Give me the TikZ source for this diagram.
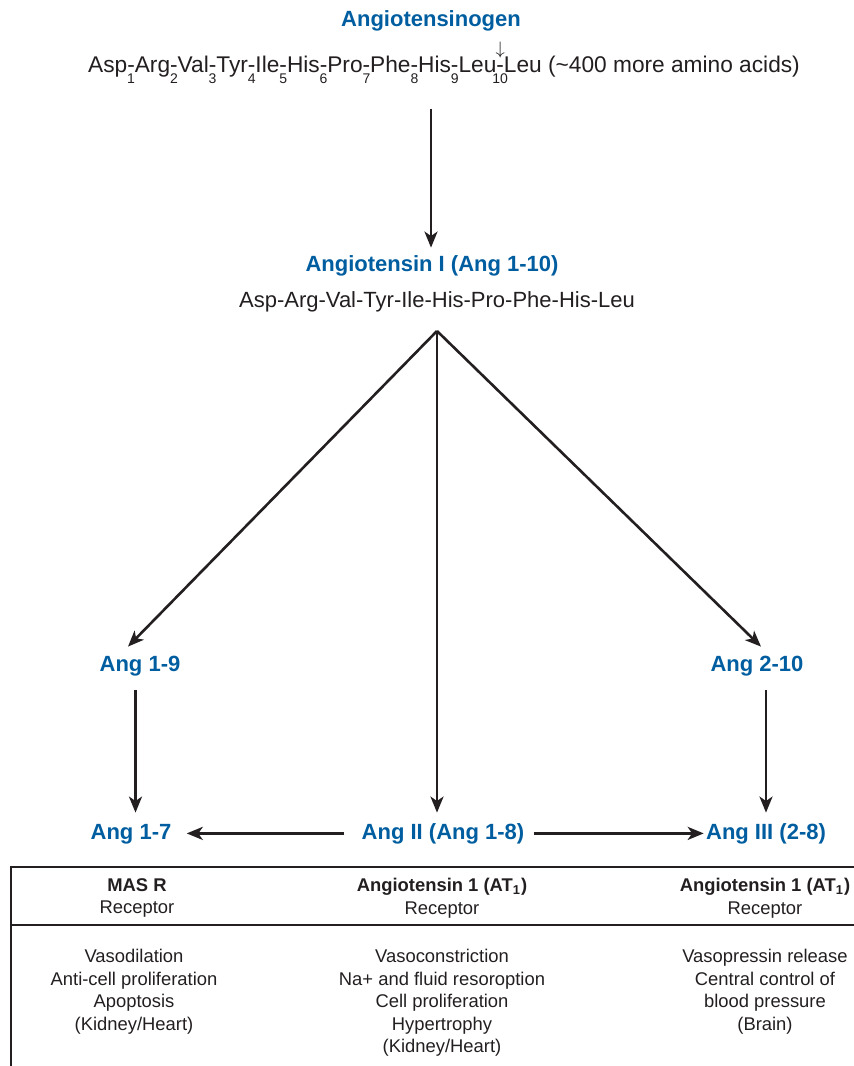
\documentclass[tikz,border=0pt]{standalone}
\usepackage{fontspec}
\setmainfont{Liberation Sans}
\usepackage{xcolor}
\usetikzlibrary{arrows.meta, positioning, calc}

\definecolor{angblue}{RGB}{0,94,160}
\definecolor{ink}{RGB}{35,31,32}
% residue number under a hyphen, and the renin cut mark above it
\newcommand{\resno}[1]{\rlap{\makebox[0.333em][c]{\raisebox{-5.5pt}{\fontsize{7}{7}\selectfont #1}}}}
\newcommand{\cutsite}{\rlap{\makebox[0.333em][c]{\raisebox{9pt}{\fontsize{9}{9}\selectfont$\downarrow$}}}}

\begin{document}
\begin{tikzpicture}[
  x=0.5pt, y=-0.5pt,
  every node/.style={text=ink, inner sep=0pt},
  pep/.style={font=\bfseries\fontsize{11}{13}\selectfont, text=angblue, anchor=base,
              text height=8pt, text depth=2.4pt},
  chain/.style={font=\fontsize{11}{13}\selectfont, anchor=base},
  cell/.style={font=\fontsize{9.2}{11.25}\selectfont, align=center, anchor=north},
  arr/.style={-{Stealth[length=8pt, width=6.5pt, inset=2.2pt]}, line width=1.3pt, draw=ink},
  tbl/.style={line width=0.8pt, draw=ink}
]
\useasboundingbox (0,0) rectangle (854,1066);
%% peptides (coordinates in px of the figure, baselines)
\node[pep]   (agt)    at (431, 26)  {Angiotensinogen};
\node[chain, font=\fontsize{11.35}{13}\selectfont] (seq0) at (444, 72)
  {Asp\resno{1}-Arg\resno{2}-Val\resno{3}-Tyr\resno{4}-Ile\resno{5}-His\resno{6}-Pro\resno{7}-Phe\resno{8}-His\resno{9}-Leu\resno{10}\cutsite-Leu (\textasciitilde400 more amino acids)};
\node[pep]   (angI)   at (432, 271) {Angiotensin I (Ang 1-10)};
\node[chain] (seqI)   at (437, 307) {Asp-Arg-Val-Tyr-Ile-His-Pro-Phe-His-Leu};
\coordinate  (fork)   at (437, 331);
\node[pep]   (ang19)  at (140, 671) {Ang 1-9};
\node[pep]   (ang210) at (757, 671) {Ang 2-10};
\node[pep]   (ang17)  at (131, 839) {Ang 1-7};
\node[pep]   (angII)  at (443, 839) {Ang II (Ang 1-8)};
\node[pep]   (angIII) at (766, 839) {Ang III (2-8)};
%% arrows
\draw[arr, shorten <=12.5pt, shorten >=3.5pt] (agt.south |- seq0.south) -- (agt.south |- angI.north);
\draw[arr] (fork) -- ($(ang19.north)+(-12,-8)$);
\draw[arr] (fork) -- ($(ang210.north)+(4,-8)$);
\draw[arr, shorten >=5pt] (fork) -- (fork |- angII.north);
\draw[arr, shorten <=6.8pt, shorten >=5pt] ([xshift=-2.25pt]ang19.south) -- ([xshift=-2.25pt]ang19.south |- ang17.north);
\draw[arr, shorten <=6.8pt, shorten >=5pt] (ang210.south -| angIII) -- (angIII.north);
\draw[arr, shorten <=8.5pt, shorten >=7.5pt] (angII.west) -- (ang17.east);
\draw[arr, shorten <=4.5pt, shorten >=1pt] (angII.east) -- (angIII.west);
%% receptor table
\coordinate (t_ne) at (854, 867);
\coordinate (t_nw) at (11, 867);
\coordinate (t_sw) at (11, 1066);
\coordinate (t_mw) at (11, 925);
\coordinate (t_me) at (854, 925);
\draw[tbl] (t_ne) -- (t_nw) -- (t_sw);
\draw[tbl] (t_mw) -- (t_me);
\node[cell] (h_mas)  at (137, 878) {\textbf{MAS R}\\Receptor};
\node[cell] (h_at1)  at (442, 878) {\textbf{Angiotensin 1 (AT\textsubscript{1})}\\Receptor};
\node[cell] (h_at1b) at (765, 878) {\textbf{Angiotensin 1 (AT\textsubscript{1})}\\Receptor};
\node[cell] (b_mas)  at (134, 949) {Vasodilation\\Anti-cell proliferation\\Apoptosis\\(Kidney/Heart)};
\node[cell] (b_at1)  at (442, 949) {Vasoconstriction\\Na+ and fluid resoroption\\Cell proliferation\\Hypertrophy\\(Kidney/Heart)};
\node[cell] (b_at1b) at (765, 949) {Vasopressin release\\Central control of\\blood pressure\\(Brain)};
\end{tikzpicture}
\end{document}
